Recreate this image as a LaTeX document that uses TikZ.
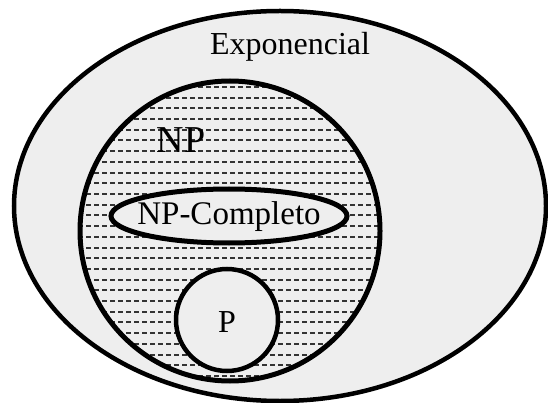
\documentclass[tikz,border=0pt]{standalone}
\usepackage{fontspec}
\setmainfont{Liberation Serif}
\usetikzlibrary{positioning}
\definecolor{fundo}{RGB}{238,238,238}

\begin{document}
\begin{tikzpicture}[x=1pt, y=-1pt,
			conjunto/.style={draw=black, fill=fundo},
			tracos/.style={draw=black!80, line width=2pt, dash pattern=on 5pt off 3pt},
			rotulo/.style={inner sep=0pt, font=\fontsize{#1}{#1}\selectfont}]
			%Bildbereich
			\useasboundingbox (0,0) rectangle (548,403);
			% Exponencial
			\draw[conjunto, line width=4.5pt] (280,206) ellipse [x radius=266, y radius=195];
			% NP mit Strichmuster
			\begin{scope}
				\clip (230,231) circle [radius=150];
				\fill[fundo] (230,231) circle [radius=150];
				\foreach \i in {0,...,28} \draw[tracos] (70,87+\i*10.7) -- (400,87+\i*10.7);
			\end{scope}
			\draw[line width=5pt] (230,231) circle [radius=150];
			% NP-Completo und P
			\draw[conjunto, line width=5pt] (229,216) ellipse [x radius=118, y radius=27];
			\draw[conjunto, line width=4.5pt] (227,320) circle [radius=51];
			%Beschriftung
			\node[rotulo=32] (expo) at (290,47) {Exponencial};
			\node[rotulo=38] (np) at (181,140) {NP};
			\node[rotulo=33] (npc) at (229,217) {NP-Completo};
			\node[rotulo=32] (p) at (227,322) {P};
		\end{tikzpicture}
\end{document}
